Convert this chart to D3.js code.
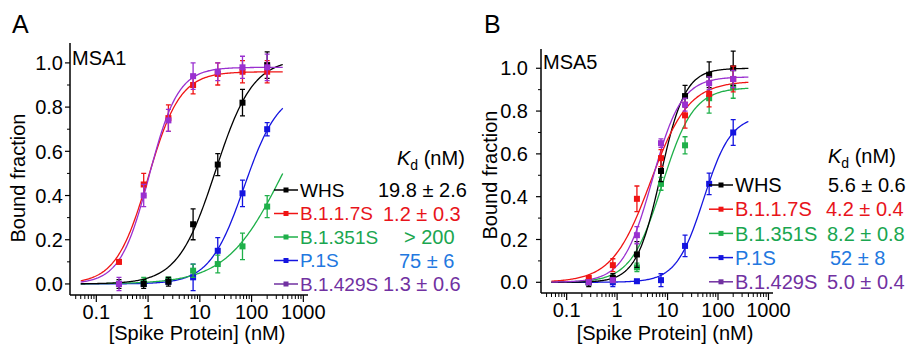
<!DOCTYPE html>
<html>
<head>
<meta charset="utf-8">
<script src="https://cdn.jsdelivr.net/npm/d3@7"></script>
<style>
  body { margin: 0; background: #fff; }
  svg { font-family: "Liberation Sans", Arial, sans-serif; }
</style>
</head>
<body>
<script>
// spike protein concentrations (nM), 3-fold dilution
const conc = [0.274, 0.823, 2.47, 7.41, 22.2, 66.7, 200];
const seriesNames = ["WHS", "B.1.1.7S", "B.1.351S", "P.1S", "B.1.429S"];
const lineColors = ["#000000", "#f01414", "#1fb04a", "#1414e0", "#9a30d0"];
const textColors = ["#000000", "#e8141b", "#1aa650", "#2278e0", "#7131a1"];
const legendLineColors = ["#000000", "#f01414", "#1fb04a", "#1414e0", "#7131a1"];
const xTickLabels = ["0.1", "1", "10", "100", "1000"];
const yTickLabels = ["0.0", "0.2", "0.4", "0.6", "0.8", "1.0"];

// MSA1 bound fraction, one row per series
const msa1Values = [
  [0.00, 0.00, 0.01, 0.27, 0.54, 0.82, 0.99],
  [0.10, 0.45, 0.75, 0.90, 0.95, 0.96, 0.96],
  [0.00, 0.01, 0.02, 0.06, 0.09, 0.17, 0.35],
  [0.00, 0.00, 0.01, 0.03, 0.15, 0.41, 0.70],
  [0.00, 0.40, 0.74, 0.94, 0.96, 0.98, 0.98]
];
const msa1Errors = [
  [0.02, 0.02, 0.02, 0.07, 0.05, 0.06, 0.06],
  [0.01, 0.05, 0.06, 0.04, 0.05, 0.05, 0.05],
  [0.01, 0.02, 0.01, 0.03, 0.04, 0.06, 0.05],
  [0.01, 0.01, 0.01, 0.06, 0.06, 0.06, 0.03],
  [0.03, 0.05, 0.05, 0.06, 0.04, 0.05, 0.06]
];
// fitted curve parameters [Bmax, K, hill]
const msa1Fit = [
  [1.02, 20, 1.2],
  [0.96, 1.0, 1.4],
  [1.0, 400, 0.8],
  [0.88, 72, 1.3],
  [0.98, 1.05, 1.55]
];
const msa1Kd = ["19.8 ± 2.6", "1.2 ± 0.3", "> 200", "75 ± 6", "1.3 ± 0.6"];

// MSA5
const msa5Values = [
  [0.00, 0.02, 0.13, 0.52, 0.87, 0.97, 1.00],
  [0.02, 0.08, 0.39, 0.58, 0.78, 0.88, 0.95],
  [0.00, 0.01, 0.07, 0.46, 0.64, 0.86, 0.91],
  [0.00, 0.00, 0.005, 0.01, 0.17, 0.46, 0.70],
  [0.00, 0.01, 0.22, 0.65, 0.83, 0.93, 0.95]
];
const msa5Errors = [
  [0.02, 0.02, 0.06, 0.05, 0.05, 0.06, 0.08],
  [0.01, 0.03, 0.06, 0.04, 0.06, 0.06, 0.06],
  [0.01, 0.01, 0.02, 0.03, 0.04, 0.07, 0.05],
  [0.01, 0.02, 0.005, 0.03, 0.05, 0.05, 0.06],
  [0.01, 0.01, 0.04, 0.02, 0.03, 0.03, 0.04]
];
const msa5Fit = [
  [1.0, 7.3, 1.8],
  [0.94, 4.6, 1.15],
  [0.91, 7.8, 1.4],
  [0.78, 52, 1.6],
  [0.96, 5.0, 1.5]
];
const msa5Kd = ["5.6 ± 0.6", "4.2 ± 0.4", "8.2 ± 0.8", "52 ± 8", "5.0 ± 0.4"];

const width = 914, height = 347;
const svg = d3.select("body").append("svg")
  .attr("width", width)
  .attr("height", height);

function drawPanel(cfg) {
  const x = d3.scaleLog().domain([0.031, 1230]).range([cfg.left, cfg.right]);
  const y = d3.scaleLinear().domain([-0.05, 1.09]).range([cfg.bottom, cfg.top]);
  const g = svg.append("g");

  // axes
  const xMinor = [];
  [0.01, 0.1, 1, 10, 100].forEach(d => {
    for (let k = 2; k <= 9; k++) {
      const v = d * k;
      if (v >= 0.04 && v <= 1000) xMinor.push(v);
    }
  });
  const xAxis = g.append("g").attr("transform", `translate(0,${cfg.bottom})`);
  xAxis.append("line").attr("x1", cfg.left).attr("x2", cfg.right)
    .attr("stroke", "#000").attr("stroke-width", 1.5);
  xAxis.selectAll(".minor").data(xMinor).join("line")
    .attr("x1", d => x(d)).attr("x2", d => x(d)).attr("y1", 0).attr("y2", 4)
    .attr("stroke", "#000").attr("stroke-width", 1);
  xAxis.selectAll(".major").data(xTickLabels).join("line")
    .attr("x1", d => x(+d)).attr("x2", d => x(+d)).attr("y1", 0).attr("y2", 7)
    .attr("stroke", "#000").attr("stroke-width", 1.2);
  xAxis.selectAll("text").data(xTickLabels).join("text")
    .attr("x", d => x(+d)).attr("y", 24)
    .attr("text-anchor", "middle").style("font-size", "20px")
    .text(d => d);

  const yAxis = g.append("g").attr("transform", `translate(${cfg.left},0)`);
  yAxis.append("line").attr("y1", cfg.top).attr("y2", cfg.bottom)
    .attr("stroke", "#000").attr("stroke-width", 1.5);
  yAxis.selectAll(".minor").data([0.1, 0.3, 0.5, 0.7, 0.9]).join("line")
    .attr("y1", d => y(d)).attr("y2", d => y(d)).attr("x1", 0).attr("x2", -3)
    .attr("stroke", "#000").attr("stroke-width", 1);
  yAxis.selectAll(".major").data(yTickLabels).join("line")
    .attr("y1", d => y(+d)).attr("y2", d => y(+d)).attr("x1", 0).attr("x2", -5)
    .attr("stroke", "#000").attr("stroke-width", 1.2);
  yAxis.selectAll("text").data(yTickLabels).join("text")
    .attr("x", -cfg.yLabelGap).attr("y", d => y(+d)).attr("dy", "0.36em")
    .attr("text-anchor", "end").style("font-size", "20px")
    .text(d => d);

  // axis titles
  g.append("text")
    .attr("x", (cfg.left + cfg.right) / 2 + 8).attr("y", 340)
    .attr("text-anchor", "middle").style("font-size", "20px")
    .text("[Spike Protein] (nM)");
  g.append("text")
    .attr("transform", `translate(${cfg.yTitleX},${cfg.yTitleY}) rotate(-90)`)
    .attr("text-anchor", "middle").style("font-size", "20px")
    .text("Bound fraction");

  g.append("text").attr("x", cfg.left + 2).attr("y", cfg.top + cfg.titleDy)
    .style("font-size", "20px").text(cfg.title);
  g.append("text").attr("x", cfg.letterX).attr("y", 33)
    .style("font-size", "25px").text(cfg.letter);

  // fitted curves
  const grid = d3.range(0, 201).map(i => Math.pow(10, Math.log10(0.05) + i / 200 * (Math.log10(400) - Math.log10(0.05))));
  const line = d3.line().x(d => x(d[0])).y(d => y(d[1]));
  const order = [3, 2, 0, 1, 4];
  order.forEach(s => {
    const [bmax, k, n] = cfg.fit[s];
    const pts = grid.map(c => [c, bmax * Math.pow(c, n) / (Math.pow(k, n) + Math.pow(c, n))]);
    g.append("path").attr("d", line(pts))
      .attr("fill", "none").attr("stroke", lineColors[s]).attr("stroke-width", 1.3);
  });

  // data points with error bars
  order.forEach(s => {
    const pts = conc.map((c, i) => ({ c: c, v: cfg.values[s][i], e: cfg.errors[s][i] }));
    const sg = g.append("g").attr("stroke", lineColors[s]).attr("fill", lineColors[s]);
    sg.selectAll(".eb").data(pts).join("path")
      .attr("d", d => {
        const px = x(d.c), y1 = y(d.v + d.e), y2 = y(d.v - d.e);
        return `M${px},${y1}V${y2}M${px - 2.5},${y1}H${px + 2.5}M${px - 2.5},${y2}H${px + 2.5}`;
      })
      .attr("fill", "none").attr("stroke-width", 1.3);
    sg.selectAll("rect").data(pts).join("rect")
      .attr("x", d => x(d.c) - 3).attr("y", d => y(d.v) - 3)
      .attr("width", 6).attr("height", 6).attr("stroke", "none");
  });

  // legend
  const leg = g.append("g");
  seriesNames.forEach((name, i) => {
    const cy = cfg.legY + i * cfg.legStep;
    leg.append("line").attr("x1", cfg.legX).attr("x2", cfg.legX + 24)
      .attr("y1", cy).attr("y2", cy)
      .attr("stroke", legendLineColors[i]).attr("stroke-width", 1.5);
    leg.append("rect").attr("x", cfg.legX + 9.5).attr("y", cy - 2.5)
      .attr("width", 5).attr("height", 5).attr("fill", legendLineColors[i]);
    leg.append("text").attr("x", cfg.legX + 26).attr("y", cy).attr("dy", "0.36em")
      .attr("fill", textColors[i]).style("font-size", cfg.legFont).text(name);
    leg.append("text").attr("x", cfg.kdX[i]).attr("y", cy).attr("dy", "0.36em")
      .attr("fill", textColors[i]).style("font-size", "20px").text(cfg.kd[i]);
  });
  const kh = leg.append("text").attr("x", cfg.kdHeadX).attr("y", cfg.kdHeadY)
    .style("font-size", "20px");
  kh.append("tspan").style("font-style", "italic").text("K");
  kh.append("tspan").attr("dy", 5).style("font-size", "14px").text("d");
  kh.append("tspan").attr("dy", -5).text(" (nM)");
}

drawPanel({
  left: 70, right: 308, top: 43, bottom: 295,
  yLabelGap: 7, yTitleX: 25, yTitleY: 178,
  title: "MSA1", titleDy: 22, letter: "A", letterX: 12,
  values: msa1Values, errors: msa1Errors, fit: msa1Fit, kd: msa1Kd,
  legX: 274, legY: 190, legStep: 23.5, legFont: "19px",
  kdX: [378, 383, 404, 399, 383],
  kdHeadX: 397, kdHeadY: 165
});

drawPanel({
  left: 541, right: 773, top: 49, bottom: 293,
  yLabelGap: 13, yTitleX: 497, yTitleY: 175,
  title: "MSA5", titleDy: 20, letter: "B", letterX: 484,
  values: msa5Values, errors: msa5Errors, fit: msa5Fit, kd: msa5Kd,
  legX: 709, legY: 185, legStep: 24.2, legFont: "20px",
  kdX: [828, 826, 827, 830, 827],
  kdHeadX: 828, kdHeadY: 163
});
</script>
</body>
</html>
